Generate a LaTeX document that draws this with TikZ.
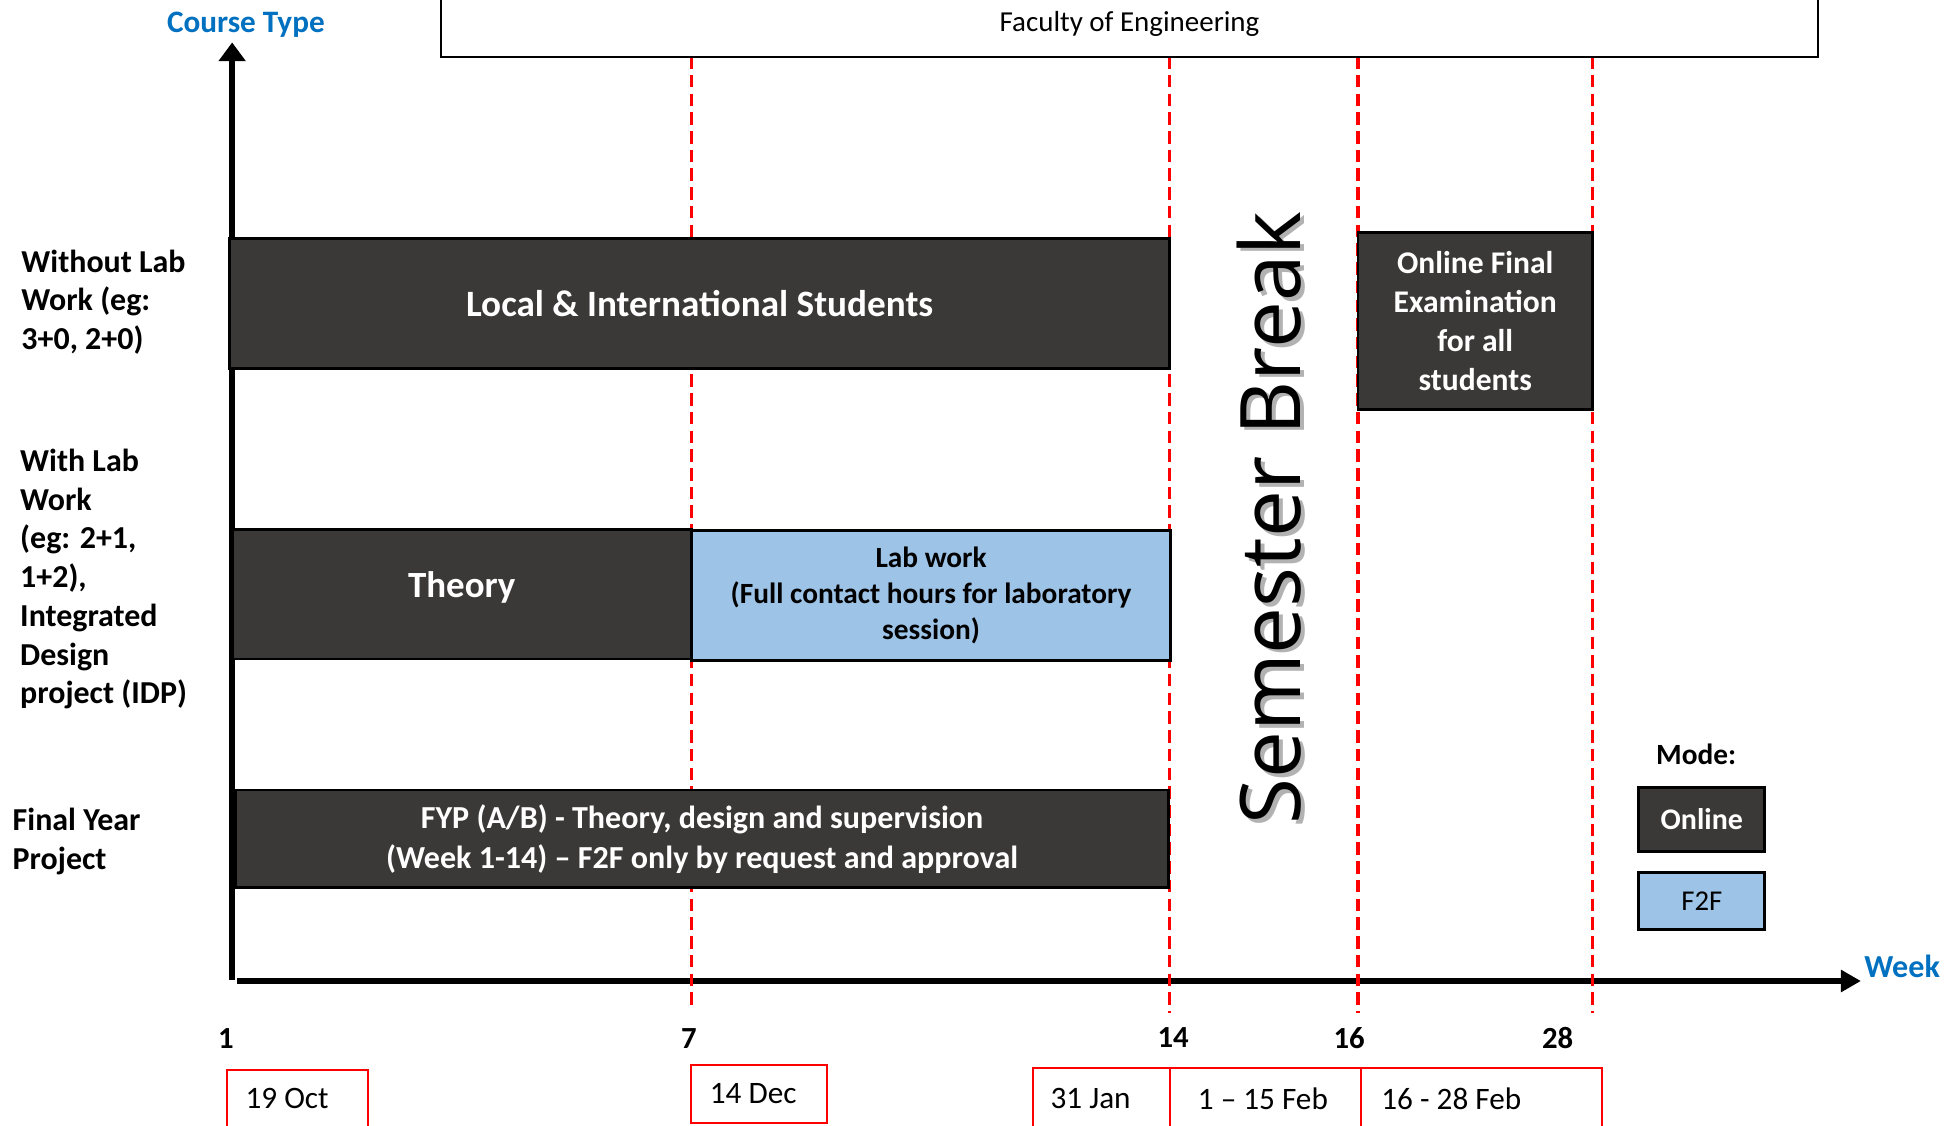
\documentclass[tikz,border=0pt]{standalone}
\usepackage{fontspec}
\setmainfont{Carlito}
\newfontfamily\osans{Open Sans}
\usetikzlibrary{arrows.meta}
\definecolor{dkbox}{HTML}{3B3838}
\definecolor{ltblue}{HTML}{9DC3E6}
\definecolor{axblue}{HTML}{0070C0}
\newcommand{\fsz}[2]{\fontsize{#1}{#2}\selectfont}
\begin{document}
\begin{tikzpicture}[x=1pt,y=-1pt,
  dkbox/.style={draw=black, line width=2.2, fill=dkbox, text=white, inner sep=0pt, align=center},
  bluebox/.style={draw=black, line width=2.2, fill=ltblue, text=black, inner sep=0pt, align=center},
  datebox/.style={draw=red, line width=1.6, anchor=west, inner sep=0pt, font=\fsz{25}{30}},
  redline/.style={draw=red, line width=2.6, dash pattern=on 10 off 5},
  axis/.style={draw=black, line width=4.5},
  lbl/.style={anchor=west, align=left, inner sep=0pt, font=\bfseries\fsz{25.6}{31}},
  num/.style={inner sep=0pt, font=\bfseries\fsz{24.6}{30}}]
\useasboundingbox (0,0) rectangle (1568,902);

% axes
\coordinate (yb) at (186,785);
\coordinate (yt) at (186,34);
\coordinate (xl) at (190,786);
\coordinate (xr) at (1491,786);
\draw[axis, -{Triangle[width=21,length=15]}] (yb) -- (yt);
\draw[axis, -{Triangle[width=17,length=16]}] (xl) -- (xr);

% red dashed week lines
\foreach \n/\x/\b in {a/554/808, b/937/812, c/1088/812, d/1276/812}{
  \coordinate (\n top) at (\x,45);
  \coordinate (\n bot) at (\x,\b);
  \draw[redline] (\n top) -- (\n bot);
}

% top box
\node[draw=black, line width=1.6, fill=white, minimum width=1104, minimum height=54, inner sep=0pt,
  font=\fsz{23.2}{28}] (fac) at (905,19) {Faculty of Engineering};

% axis labels
\node[text=axblue, font=\bfseries\fsz{25}{30}, inner sep=0pt] (ctype) at (197,20) {Course Type};
\node[text=axblue, font=\bfseries\fsz{25.7}{30}, inner sep=0pt] (week) at (1524,774) {Week};

% row labels
\node[lbl] (l1) at (17,242) {Without Lab\\Work (eg:\\3+0, 2+0)};
\node[lbl] (l2) at (16,464) {With Lab\\Work\\(eg: 2+1,\\1+2),\\Integrated\\Design\\project (IDP)};
\node[lbl] (l3) at (10,674) {Final Year\\Project};

% bars
\node[dkbox, minimum width=753, minimum height=104, font=\bfseries\fsz{29.8}{36}] (local) at (560.5,243) {Local \& International Students};
\node[dkbox, minimum width=368, minimum height=104, font=\bfseries\fsz{29.6}{36}] (theory) at (370,476) {\raisebox{16pt}{Theory}};
\node[bluebox, minimum width=384, minimum height=104, font=\bfseries\fsz{23.5}{29}] (lab) at (746,477) {Lab work\\(Full contact hours for laboratory\\session)};
\node[dkbox, minimum width=747, minimum height=78, font=\bfseries\fsz{25.7}{32}] (fyp) at (562.5,672) {\raisebox{-2pt}{\parbox{740pt}{\centering FYP (A/B) - Theory, design and supervision\\(Week 1-14) -- F2F only by request and approval}}};
\node[dkbox, minimum width=188, minimum height=142, font=\bfseries\fsz{25.3}{31.3}] (exam) at (1182,257) {Online Final\\Examination\\for all\\students};

% semester break
\node[rotate=90, text=black, opacity=0.3, font=\osans\fsz{67}{70}, inner sep=0pt] (sbshadow) at (1020,418) {Semester Break};
\node[rotate=90, font=\osans\fsz{67}{70}, inner sep=0pt] (sb) at (1017,415) {Semester Break};

% legend
\node[font=\bfseries\fsz{23.5}{28}, inner sep=0pt] (mode) at (1359,604) {Mode:};
\node[dkbox, minimum width=101, minimum height=51, font=\bfseries\fsz{24}{28}] (lonline) at (1363.5,656.5) {Online};
\node[bluebox, minimum width=101, minimum height=46, font=\fsz{23}{28}] (lf2f) at (1363.5,722) {F2F};

% week numbers
\node[num] (n1) at (181,832) {1};
\node[num] (n7) at (552,832) {7};
\node[num] (n14) at (940,831) {14};
\node[num] (n16) at (1081,832) {16};
\node[num] (n28) at (1248,832) {28};

% date boxes
\node[datebox, minimum width=113, minimum height=46] (d1) at (181,880) {\makebox[113pt][l]{\hspace*{15pt}19 Oct}};
\node[datebox, minimum width=109, minimum height=47] (d2) at (553,876.5) {\makebox[109pt][l]{\hspace*{15pt}14 Dec}};
\node[datebox, minimum width=110, minimum height=48] (d3) at (827,880) {\makebox[110pt][l]{\hspace*{14pt}31 Jan}};
\node[datebox, minimum width=153, minimum height=48] (d4) at (937,880) {\makebox[153pt][l]{\hspace*{22pt}1 -- 15 Feb}};
\node[datebox, minimum width=193, minimum height=48] (d5) at (1090,880) {\makebox[193pt][l]{\hspace*{16pt}16 - 28 Feb}};
\end{tikzpicture}
\end{document}
